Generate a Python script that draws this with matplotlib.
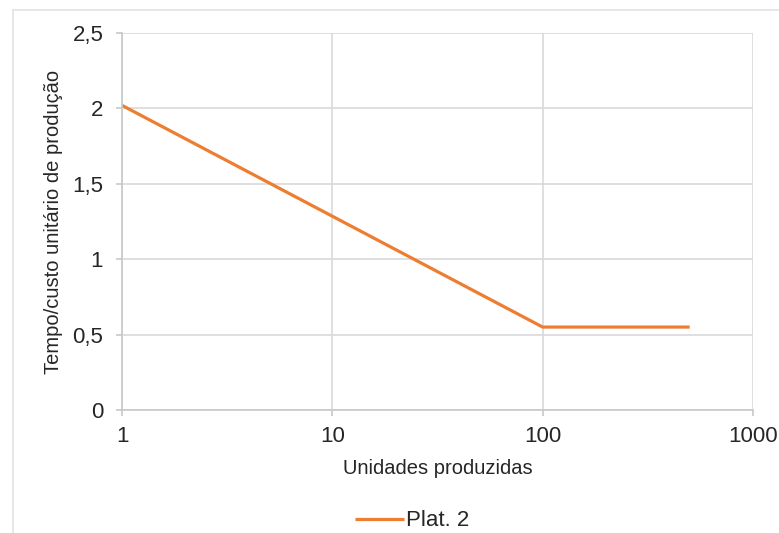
import matplotlib.pyplot as plt
from matplotlib.patches import Rectangle

plt.rcParams["font.family"] = ["Liberation Sans", "DejaVu Sans"]

units = [1, 100, 500]
unit_cost = [2.02, 0.55, 0.55]
series_name = "Plat. 2"

y_ticks = [0, 0.5, 1, 1.5, 2, 2.5]
y_tick_labels = ["0", "0,5", "1", "1,5", "2", "2,5"]
x_ticks = [1, 10, 100, 1000]
x_tick_labels = ["1", "10", "100", "1000"]

grid_color = "#d9d9d9"
text_color = "#262626"

fig = plt.figure(figsize=(7.79, 5.33), dpi=100)
fig.patch.set_facecolor("white")

# outer chart frame (only top/left visible in the crop)
fig.patches.append(
    Rectangle((13 / 779, -0.05), 1.1, 1 - 10 / 533 + 0.05,
              transform=fig.transFigure, fill=False,
              edgecolor="#e3e3e3", linewidth=1.2)
)

ax = fig.add_axes([122 / 779, 1 - 410 / 533, (753 - 122) / 779, (410 - 33) / 533])

ax.plot(units, unit_cost, color="#ED7D31", linewidth=2.3, label=series_name,
        solid_capstyle="butt")

ax.set_xscale("log")
ax.set_xlim(1, 1000)
ax.set_ylim(0, 2.5)

ax.set_xticks(x_ticks)
ax.set_xticklabels(x_tick_labels)
ax.xaxis.set_minor_locator(plt.NullLocator())
ax.set_yticks(y_ticks)
ax.set_yticklabels(y_tick_labels)

ax.grid(True, color=grid_color, linewidth=1.2)
ax.set_axisbelow(True)
for side in ["top", "right"]:
    ax.spines[side].set_visible(False)
for side in ["left", "bottom"]:
    ax.spines[side].set_color("#c8c8c8")
    ax.spines[side].set_linewidth(1.2)

ax.tick_params(axis="both", length=4.5, width=1.2, color="#c8c8c8",
               labelsize=16, labelcolor=text_color)
ax.tick_params(axis="x", pad=7)
ax.tick_params(axis="y", pad=9)

ax.set_xlabel("Unidades produzidas", fontsize=14.5, color=text_color, labelpad=9)
ax.set_ylabel("Tempo/custo unitário de produção", fontsize=14.5, color=text_color,
              labelpad=7)

fig.legend(loc="center", bbox_to_anchor=(412 / 779, 1 - 521 / 533),
           frameon=False, fontsize=16, handlelength=2.2, handletextpad=0.1,
           labelcolor=text_color)

plt.savefig("out.png", dpi=100)
plt.close()
